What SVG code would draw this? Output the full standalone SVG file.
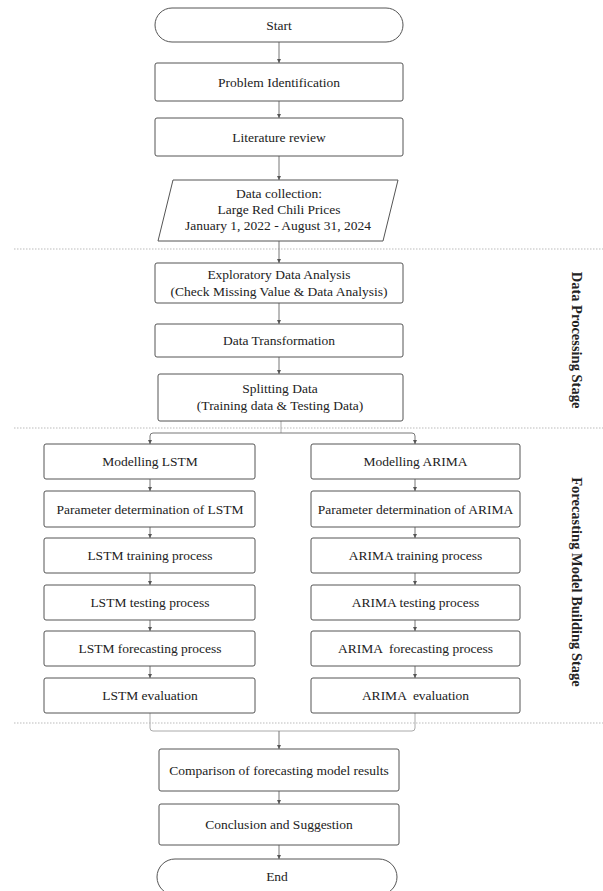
<svg xmlns="http://www.w3.org/2000/svg" width="603" height="891" viewBox="0 0 603 891">
<style>
.box{fill:#fff;stroke:#555;stroke-width:1}
.t{font-family:"Liberation Serif","Times New Roman",serif;font-size:13.5px;fill:#222;text-anchor:middle}
.stage{font-family:"Liberation Serif","Times New Roman",serif;font-size:14.5px;font-weight:bold;fill:#222;text-anchor:middle}
.sep{stroke:#bbb;stroke-width:1;stroke-dasharray:1.5 1.5;fill:none}
.c{stroke:#777;stroke-width:1;fill:none;marker-end:url(#ah)}
.m{stroke:#aaa;stroke-width:1;fill:none}
</style>
<defs>
<marker id="ah" viewBox="0 0 6 6" refX="6" refY="3" markerWidth="4" markerHeight="4" orient="auto" markerUnits="userSpaceOnUse">
<path d="M0,0 L6,3 L0,6 z" fill="#555"/>
</marker>
</defs>
<rect width="603" height="891" fill="#fff"/>
<g id="separators">
<line class="sep" x1="14" y1="249" x2="603" y2="249"/>
<line class="sep" x1="14" y1="428" x2="603" y2="428"/>
<line class="sep" x1="14" y1="723" x2="603" y2="723"/>
</g>
<g id="connectors">
<line class="c" x1="279" y1="42" x2="279" y2="63"/>
<line class="c" x1="279" y1="101" x2="279" y2="118"/>
<line class="c" x1="279" y1="156" x2="279" y2="180"/>
<line class="c" x1="279" y1="241" x2="279" y2="263"/>
<line class="c" x1="279" y1="303" x2="279" y2="324"/>
<line class="c" x1="279" y1="357" x2="279" y2="374"/>
<path class="m" d="M281,421 V433"/>
<path class="c" d="M281,433 H153 Q150,433 150,436 V444"/>
<path class="c" d="M281,433 H412 Q415,433 415,436 V444"/>
<line class="c" x1="150" y1="479" x2="150" y2="491"/>
<line class="c" x1="150" y1="527" x2="150" y2="538"/>
<line class="c" x1="150" y1="573" x2="150" y2="585"/>
<line class="c" x1="150" y1="620" x2="150" y2="631"/>
<line class="c" x1="150" y1="666" x2="150" y2="678"/>
<line class="c" x1="415" y1="479" x2="415" y2="491"/>
<line class="c" x1="415" y1="527" x2="415" y2="538"/>
<line class="c" x1="415" y1="573" x2="415" y2="585"/>
<line class="c" x1="415" y1="620" x2="415" y2="631"/>
<line class="c" x1="415" y1="666" x2="415" y2="678"/>
<path class="m" d="M150,713 V728 Q150,731 153,731 H412 Q415,731 415,728 V713"/>
<line class="c" x1="279" y1="731" x2="279" y2="749"/>
<line class="c" x1="279" y1="791" x2="279" y2="804"/>
<line class="c" x1="279" y1="845" x2="279" y2="859"/>
</g>
<g id="start"><rect class="box" x="155" y="8" width="248" height="34" rx="17"/><text class="t" x="279" y="29.5">Start</text></g>
<g id="problem"><rect class="box" x="155" y="63" width="248" height="38" rx="2"/><text class="t" x="279" y="86.5">Problem Identification</text></g>
<g id="literature"><rect class="box" x="155" y="118" width="248" height="38" rx="2"/><text class="t" x="279" y="141.5">Literature review</text></g>
<g id="datacollection"><polygon class="box" points="173,180 398,180 383,241 158,241"/>
<text class="t" x="279" y="198">Data collection:</text>
<text class="t" x="279" y="214">Large Red Chili Prices</text>
<text class="t" x="278" y="230">January 1, 2022 - August 31, 2024</text></g>
<g id="eda"><rect class="box" x="155" y="263" width="248" height="40" rx="2"/>
<text class="t" x="279" y="279">Exploratory Data Analysis</text>
<text class="t" x="279" y="296">(Check Missing Value &amp; Data Analysis)</text></g>
<g id="transformation"><rect class="box" x="155" y="324" width="248" height="33" rx="2"/><text class="t" x="279" y="345">Data Transformation</text></g>
<g id="splitting"><rect class="box" x="158" y="374" width="245" height="47" rx="2"/>
<text class="t" x="280" y="392.5">Splitting Data</text>
<text class="t" x="280" y="409.5">(Training data &amp; Testing Data)</text></g>
<g id="lstm-model"><rect class="box" x="44" y="444" width="211" height="35" rx="2"/><text class="t" x="150" y="466">Modelling LSTM</text></g>
<g id="lstm-param"><rect class="box" x="44" y="491" width="211" height="36" rx="2"/><text class="t" x="150" y="513.5">Parameter determination of LSTM</text></g>
<g id="lstm-train"><rect class="box" x="44" y="538" width="211" height="35" rx="2"/><text class="t" x="150" y="560">LSTM training process</text></g>
<g id="lstm-test"><rect class="box" x="44" y="585" width="211" height="35" rx="2"/><text class="t" x="150" y="607">LSTM testing process</text></g>
<g id="lstm-forecast"><rect class="box" x="44" y="631" width="211" height="35" rx="2"/><text class="t" x="150" y="653">LSTM forecasting process</text></g>
<g id="lstm-eval"><rect class="box" x="44" y="678" width="211" height="35" rx="2"/><text class="t" x="150" y="700">LSTM evaluation</text></g>
<g id="arima-model"><rect class="box" x="311" y="444" width="209" height="35" rx="2"/><text class="t" x="415.5" y="466">Modelling ARIMA</text></g>
<g id="arima-param"><rect class="box" x="311" y="491" width="209" height="36" rx="2"/><text class="t" x="415.5" y="513.5">Parameter determination of ARIMA</text></g>
<g id="arima-train"><rect class="box" x="311" y="538" width="209" height="35" rx="2"/><text class="t" x="415.5" y="560">ARIMA training process</text></g>
<g id="arima-test"><rect class="box" x="311" y="585" width="209" height="35" rx="2"/><text class="t" x="415.5" y="607">ARIMA testing process</text></g>
<g id="arima-forecast"><rect class="box" x="311" y="631" width="209" height="35" rx="2"/><text class="t" x="415.5" y="653" xml:space="preserve">ARIMA  forecasting process</text></g>
<g id="arima-eval"><rect class="box" x="311" y="678" width="209" height="35" rx="2"/><text class="t" x="415.5" y="700" xml:space="preserve">ARIMA  evaluation</text></g>
<g id="comparison"><rect class="box" x="159" y="749" width="240" height="42" rx="2"/><text class="t" x="279" y="774.5">Comparison of forecasting model results</text></g>
<g id="conclusion"><rect class="box" x="159" y="804" width="240" height="41" rx="2"/><text class="t" x="279" y="829">Conclusion and Suggestion</text></g>
<g id="end"><rect class="box" x="157" y="859" width="240" height="36" rx="18"/><text class="t" x="277" y="880.5">End</text></g>
<g id="stage-labels">
<text class="stage" transform="translate(577,340) rotate(90)" y="5">Data Processing Stage</text>
<text class="stage" transform="translate(577,582) rotate(90)" y="5">Forecasting Model Building Stage</text>
</g>
</svg>
